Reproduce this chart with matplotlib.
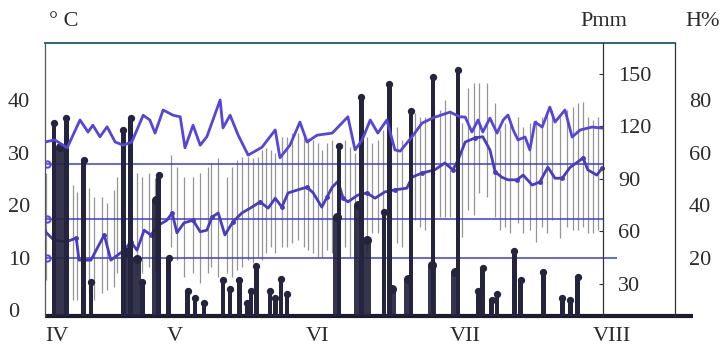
import matplotlib
matplotlib.use("Agg")
import matplotlib.pyplot as plt
from matplotlib.lines import Line2D

# x axis in days counted from 1 May
months = ['IV', 'V', 'VI', 'VII', 'VIII']
month_days = [-24.8, 0, 30, 61, 92]

# daily air temperature range, deg C (thin grey strokes)
t_days = [-27.2, -21.5, -20.6, -19.4, -18.1, -17.1, -15.4, -14.3, -12.8, -12.2,
          -8.0, -6.9, -5.5, -4.2, -0.8, 0.4, 1.9, 3.8, 5.3, 6.9,
          7.6, 9.1, 10.9, 12.0, 13.1, 14.1, 15.4, 16.4, 17.5, 18.3,
          19.2, 20.2, 21.1, 22.5, 23.6, 24.6, 25.9, 27.2, 28.0, 29.1,
          30.1, 30.9, 32.0, 33.1, 35.8, 36.8, 37.9, 40.4, 41.5, 42.7,
          43.8, 46.7, 47.8, 50.5, 51.6, 52.6, 55.8, 56.8, 57.9, 60.4,
          61.7, 62.9, 64.0, 65.7, 67.4, 68.4, 69.5, 70.5, 72.2, 73.3,
          74.7, 76.0, 77.3, 78.3, 79.4, 81.1, 82.5, 83.8, 84.8, 85.9,
          86.9, 88.0, 89.1]
t_max = [26.1, 23.8, 22.5, 21.5, 23.2, 21.5, 21.5, 20.4, 22.9, 25.3,
         26.1, 25.3, 26.1, 25.1, 29.5, 27.2, 25.3, 25.3, 26.1, 27.2,
         28.0, 29.0, 25.3, 27.2, 28.6, 29.1, 29.1, 29.0, 29.1, 30.5,
         30.9, 30.5, 29.9, 33.0, 33.0, 33.7, 33.7, 33.0, 32.8, 32.4,
         31.8, 30.5, 31.8, 32.4, 32.4, 31.0, 29.9, 33.0, 31.8, 32.4,
         34.3, 34.9, 32.4, 37.5, 36.8, 36.8, 38.1, 40.0, 38.1, 35.6,
         42.3, 43.2, 43.2, 43.2, 39.4, 34.3, 35.6, 35.6, 36.8, 34.9,
         35.6, 36.2, 36.8, 37.5, 38.1, 36.8, 38.1, 38.7, 39.4, 39.6,
         36.8, 36.2, 36.8]
t_min = [5.7, 1.9, 1.9, 4.4, 3.2, 1.9, 3.2, 3.8, 4.4, 7.0,
         6.3, 7.0, 8.2, 7.2, 12.0, 9.5, 6.3, 7.0, 5.1, 7.0,
         8.2, 6.3, 7.0, 6.3, 7.6, 8.2, 9.5, 9.0, 10.1, 9.5,
         10.9, 12.0, 10.9, 12.0, 12.0, 12.8, 13.3, 12.0, 11.4, 10.9,
         10.1, 10.1, 11.4, 10.9, 12.0, 10.1, 9.5, 10.9, 14.7, 14.7,
         15.8, 12.8, 12.0, 17.1, 15.8, 15.2, 17.7, 17.7, 17.7, 13.9,
         19.0, 18.1, 22.3, 21.5, 17.7, 15.2, 15.8, 14.7, 16.6, 14.7,
         15.2, 13.0, 15.8, 14.7, 17.1, 13.7, 15.8, 15.2, 15.2, 15.8,
         14.7, 14.7, 15.2]

# mean air temperature, deg C
tm_days = [-27.6, -25.5, -22.9, -20.8, -20.2, -17.7, -14.9, -13.5, -10.7, -9.3,
           -8.0, -6.5, -5.1, -3.4, -1.7, -0.6, 0.4, 1.9, 3.8, 5.3,
           6.7, 7.8, 9.1, 10.5, 12.2, 14.1, 16.2, 17.9, 19.6, 21.1,
           22.5, 23.8, 25.9, 27.8, 29.1, 30.9, 32.0, 33.1, 34.3, 35.4,
           36.4, 38.5, 40.4, 42.1, 44.2, 46.3, 48.8, 49.9, 52.0, 54.7,
           56.8, 58.5, 59.6, 61.1, 63.2, 64.8, 66.3, 67.4, 68.8, 70.1,
           72.0, 73.3, 75.2, 76.8, 78.5, 80.0, 81.5, 83.2, 84.8, 85.9,
           86.9, 88.8, 89.9]
tm_vals = [15.2, 13.3, 13.0, 13.7, 9.5, 9.5, 14.3, 9.5, 11.4, 13.0,
           11.4, 15.2, 14.3, 16.2, 17.1, 18.5, 14.7, 16.6, 17.1, 14.9,
           15.2, 17.7, 18.5, 14.3, 16.8, 18.5, 19.6, 20.6, 19.4, 21.3,
           19.6, 22.3, 22.9, 23.4, 22.3, 19.6, 21.5, 23.4, 24.5, 21.3,
           20.6, 21.9, 22.3, 21.3, 22.5, 22.9, 23.2, 25.3, 26.1, 26.7,
           28.0, 26.7, 28.6, 32.0, 32.8, 33.0, 30.5, 26.3, 25.3, 24.8,
           24.8, 25.7, 23.8, 24.4, 27.2, 25.1, 25.1, 27.2, 28.2, 29.0,
           26.7, 25.7, 27.0]

# relative humidity, %
h_days = [-27.4, -25.3, -22.7, -20.0, -18.3, -17.3, -15.8, -14.3, -12.6, -10.9,
          -9.1, -6.7, -5.3, -4.2, -2.5, -0.4, 1.1, 2.1, 3.8, 5.3,
          6.7, 9.5, 10.1, 11.6, 13.3, 15.4, 18.3, 21.1, 22.1, 24.2,
          26.3, 27.8, 29.9, 33.1, 36.4, 37.9, 39.4, 41.1, 42.7, 44.6,
          46.3, 47.4, 49.9, 52.0, 54.3, 57.9, 60.0, 61.1, 62.5, 63.8,
          64.8, 66.3, 67.8, 69.1, 70.1, 71.2, 72.2, 73.7, 74.7, 75.8,
          77.3, 78.9, 80.0, 82.1, 83.6, 85.3, 87.8, 89.9]
h_vals = [64, 64.8, 61.8, 72.4, 67.8, 70.4, 66, 69.8, 64, 62.8,
          64, 74.2, 72.4, 67.4, 76.2, 74.2, 73.6, 61.8, 70.4, 62.8,
          66, 80, 69.4, 74.2, 66.6, 59, 62, 68.6, 58, 62.8,
          71.6, 64, 66.6, 67.4, 73.6, 61, 64.8, 72.4, 67.4, 72.4,
          61, 60.5, 66, 71.2, 73.2, 75.4, 73.6, 73.5, 67.8, 72.4,
          67.8, 73.1, 67.4, 72.4, 74.3, 68.6, 64.8, 65.9, 61, 71.6,
          69.7, 77.3, 71.6, 76.2, 65.9, 68.6, 69.7, 69.3]

# precipitation, mm (narrow and broad columns)
rain_days = [-25.5, -22.9, -19.2, -17.7, -10.9, -9.3, -6.9, -3.4, -1.3, 2.7,
             4.2, 6.1, 10.1, 11.6, 13.5, 15.2, 16.0, 17.1, 20.0, 21.1,
             22.3, 23.6, 34.5, 39.2, 44.0, 45.1, 49.7, 54.3, 59.6, 63.8,
             64.8, 66.7, 67.8, 71.4, 72.8, 77.5, 81.5, 83.2, 84.8]
rain_mm = [122, 125, 101, 31, 118, 125, 31, 92, 45, 26,
           22, 19, 32, 27, 32, 19, 26, 40, 26, 22,
           33, 24, 109, 137, 71, 144, 129, 148, 152, 26,
           39, 21, 24, 49, 32, 37, 22, 21, 34]
rain2_days = [-24.2, -10.1, -8.0, -4.0, 34.1, 38.5, 40.4, 45.7, 49.1, 54.1, 58.9]
rain2_mm = [108, 48, 44, 78, 68, 75, 55, 27, 33, 41, 37]

# long-term reference levels, deg C
ref_levels = [27.8, 17.3, 9.9]
t_ticks = [0, 10, 20, 30, 40]
p_ticks = [30, 60, 90, 120, 150]
h_ticks = [20, 40, 60, 80]

plt.rcParams['font.family'] = 'Liberation Serif'
txt = '#2b2b2b'
bar_c = '#24243e'
blue = '#5546d8'

fig = plt.figure(figsize=(7.2, 3.45), dpi=100)
ax = fig.add_axes([45 / 720, 29 / 345, 630 / 720, 273 / 345])
t_lo, t_hi = -1.14, 50.86
ax.set_xlim(-27.37, 105.26)
ax.set_ylim(t_lo, t_hi)

# temperature ranges and reference levels
ax.vlines(t_days, t_min, t_max, color='#959595', lw=0.9)
ax.hlines(ref_levels[:2], -27.37, 90.1, color='#3d3dd4', lw=1.1)
ax.hlines(ref_levels[2], -27.37, 93.0, color='#3d3dd4', lw=1.1)
ax.plot([-27.0] * 3, ref_levels, 'o', ms=4.5, mfc='none', mec='#5a4be0', mew=1.5)
ax.plot(tm_days, tm_vals, color='#4a3cc0', lw=2.0, marker='o', ms=2.5,
        markevery=3, solid_joinstyle='round')

# precipitation axis
axp = ax.twinx()
axp.set_ylim(3 * t_lo + 15, 3 * t_hi + 15)
axp.bar(rain2_days, rain2_mm, width=1.6, color=bar_c, alpha=0.92)
axp.bar(rain_days, rain_mm, width=1.0, color=bar_c)
axp.scatter(rain_days, rain_mm, s=18, color=bar_c, zorder=3)
axp.scatter(rain2_days, rain2_mm, s=30, color=bar_c, zorder=3)

# humidity axis
axh = ax.twinx()
axh.set_ylim(2 * t_lo, 2 * t_hi)
axh.plot(h_days, h_vals, color=blue, lw=2.0, solid_joinstyle='round')

# spines
for s in ['right', 'bottom']:
    ax.spines[s].set_visible(False)
ax.spines['top'].set_color('#2d6475')
ax.spines['top'].set_linewidth(1.4)
ax.spines['left'].set_color('#555555')
ax.spines['left'].set_linewidth(0.9)
for s in ['left', 'top', 'bottom']:
    axp.spines[s].set_visible(False)
    axh.spines[s].set_visible(False)
axp.spines['right'].set_position(('data', 90.1))
axp.spines['right'].set_color('#333333')
axp.spines['right'].set_linewidth(0.9)
axh.spines['right'].set_color('#333333')
axh.spines['right'].set_linewidth(0.9)
ax.add_line(Line2D([0, 1.029], [0, 0], transform=ax.transAxes, color='#1c1c2c',
                   lw=3, clip_on=False, solid_capstyle='butt'))

# ticks
ax.set_xticks(month_days, months)
ax.tick_params(axis='x', length=0, pad=8, labelsize=16, labelcolor=txt)
ax.set_yticks(t_ticks)
ax.tick_params(axis='y', length=0, pad=26.6, labelsize=16, labelcolor=txt)
for lbl in ax.get_yticklabels():
    lbl.set_horizontalalignment('left')
axp.set_yticks(p_ticks)
axp.tick_params(axis='y', direction='in', length=3, color='#333333', pad=11,
                labelsize=16, labelcolor=txt)
axh.set_yticks(h_ticks)
axh.tick_params(axis='y', length=0, pad=10, labelsize=16, labelcolor=txt)

fig.text(49 / 720, 1 - 21 / 345, '\u00b0 C', fontsize=16, color=txt, va='center')
fig.text(580 / 720, 1 - 21 / 345, 'Pmm', fontsize=16, color=txt, va='center')
fig.text(685 / 720, 1 - 21 / 345, 'H%', fontsize=16, color=txt, va='center')

fig.savefig('out.png', dpi=100)
